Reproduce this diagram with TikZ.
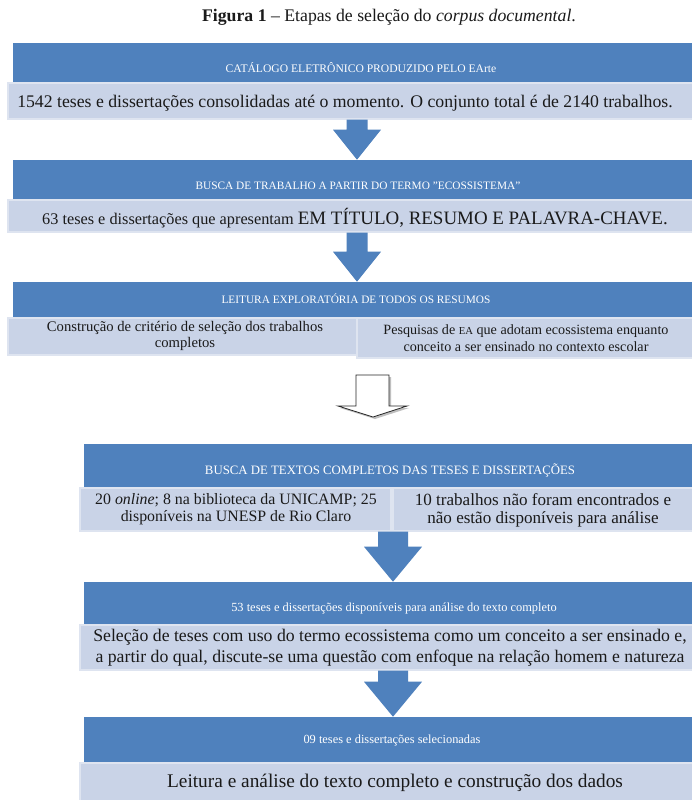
\documentclass[tikz,border=0pt]{standalone}
\usepackage{fontspec}
\setmainfont{Liberation Serif}
\usetikzlibrary{calc,fit}
\definecolor{hblue}{HTML}{4F81BD}
\definecolor{lblue}{HTML}{C9D3E7}
\definecolor{lbord}{HTML}{DEE4F0}
\definecolor{txt}{HTML}{1A1A1A}
\newcommand{\blockarrow}[6]{%
  \path (#1.south -| #3) coordinate (#3s) (#2.north -| #3) coordinate (#3e);
  \fill[hblue] ($(#3s)+(-#4,0)$) -- ($(#3s)+(#4,0)$) -- ($(#3e)+(#4,-#6)$)
     -- ($(#3e)+(#5,-#6)$) -- (#3e) -- ($(#3e)+(-#5,-#6)$) -- ($(#3e)+(-#4,-#6)$) -- cycle;}
\begin{document}
\begin{tikzpicture}[x=0.75pt,y=-0.75pt,
  hdr/.style={fill=hblue, draw=hblue, line width=0.4pt, inner sep=0pt},
  lbox/.style={fill=lblue, draw=lbord, line width=1pt, inner sep=0pt},
  htext/.style={text=white, inner sep=0pt},
  btext/.style={text=txt, align=center, inner sep=0pt},
]
\useasboundingbox[fill=white] (0,0) rectangle (692,800);

\node[text=txt, inner sep=0pt] (title) at (389,17)
  {\fontsize{13.3}{15}\selectfont\textbf{Figura 1} – Etapas de seleção do \textit{corpus documental}.};

% block 1
\node[hdr, fit={(13,43)(696,83)}] (h1) {};
\node[lbox, fit={(8,83)(696,119)}] (b1) {};
\node[htext, font=\fontsize{8.7}{10}\selectfont] (ht1) at (361,68) {CATÁLOGO ELETRÔNICO PRODUZIDO PELO EArte};
\node[btext, font=\fontsize{13.3}{15}\selectfont] (bt1) at (345,103)
  {1542 teses e dissertações consolidadas até o momento. O conjunto total é de 2140 trabalhos.};

% block 2
\node[hdr, fit={(13,160)(696,200)}] (h2) {};
\node[lbox, fit={(8,200)(696,232)}] (b2) {};
\node[htext, font=\fontsize{8.5}{10}\selectfont] (ht2) at (358,186) {BUSCA DE TRABALHO A PARTIR DO TERMO "ECOSSISTEMA"};
\node[btext] (bt2) at (355,218)
  {\fontsize{12.2}{14}\selectfont 63 teses e dissertações que apresentam \fontsize{14.2}{16}\selectfont EM TÍTULO, RESUMO E PALAVRA-CHAVE.};

% block 3
\node[hdr, fit={(13,282)(696,318)}] (h3) {};
\node[lbox, fit={(8,318)(357,355)}] (b3l) {};
\node[lbox, fit={(357,318)(696,358)}] (b3r) {};
\node[htext, font=\fontsize{8.5}{10}\selectfont] (ht3) at (356,299) {LEITURA EXPLORATÓRIA DE TODOS OS RESUMOS};
\node[btext, font=\fontsize{11}{12}\selectfont] (bt3l) at (185,336)
  {Construção de critério de seleção dos trabalhos\\completos};
\node[btext, font=\fontsize{10.6}{12.3}\selectfont] (bt3r) at (526,338)
  {Pesquisas de {\fontsize{8}{9}\selectfont EA} que adotam ecossistema enquanto\\conceito a ser ensinado no contexto escolar};

% hollow arrow
\coordinate (ha) at (373,417);
\fill[black!25] (358,377) -- (391,377) -- (391,408) -- (409,408) -- (375,419) -- (340,408) -- (358,408) -- cycle;
\filldraw[fill=white, draw=black!85, line width=0.6pt]
  (356,375) -- (389,375) -- (389,406) -- (407,406) -- (ha) -- (338,406) -- (356,406) -- cycle;

% block 4
\node[hdr, fit={(84,444)(696,488)}] (h4) {};
\node[lbox, fit={(80,488)(391,531)}] (b4l) {};
\node[lbox, fit={(393,488)(696,531)}] (b4r) {};
\node[htext, font=\fontsize{9.6}{11}\selectfont] (ht4) at (390,470) {BUSCA DE TEXTOS COMPLETOS DAS TESES E DISSERTAÇÕES};
\node[btext, font=\fontsize{11.9}{13}\selectfont] (bt4l) at (236,509)
  {20 \textit{online}; 8 na biblioteca da UNICAMP; 25\\disponíveis na UNESP de Rio Claro};
\node[btext, font=\fontsize{12.8}{13.5}\selectfont] (bt4r) at (543,510)
  {10 trabalhos não foram encontrados e\\não estão disponíveis para análise};

% block 5
\node[hdr, fit={(84,582)(696,625)}] (h5) {};
\node[lbox, fit={(80,625)(696,670)}] (b5) {};
\node[htext, font=\fontsize{9.3}{11}\selectfont] (ht5) at (394,609) {53 teses e dissertações disponíveis para análise do texto completo};
\node[btext, font=\fontsize{13.3}{15.5}\selectfont] (bt5) at (390,648)
  {Seleção de teses com uso do termo ecossistema como um conceito a ser ensinado e,\\a partir do qual, discute-se uma questão com enfoque na relação homem e natureza};

% block 6
\node[hdr, fit={(84,717)(696,763)}] (h6) {};
\node[lbox, fit={(80,763)(696,804)}] (b6) {};
\node[htext, font=\fontsize{9.3}{11}\selectfont] (ht6) at (392,741) {09 teses e dissertações selecionadas};
\node[btext, font=\fontsize{14.5}{16}\selectfont] (bt6) at (395,783)
  {Leitura e análise do texto completo e construção dos dados};

% arrows
\coordinate (xa) at (357,0);
\coordinate (xb) at (393,0);
\blockarrow{b1}{h2}{xa}{10.5}{24}{30}
\blockarrow{b2}{h3}{xa}{10.5}{24}{30}
\blockarrow{b4l}{h5}{xb}{15}{29}{35}
\blockarrow{b5}{h6}{xb}{15}{29}{35}
\end{tikzpicture}
\end{document}
